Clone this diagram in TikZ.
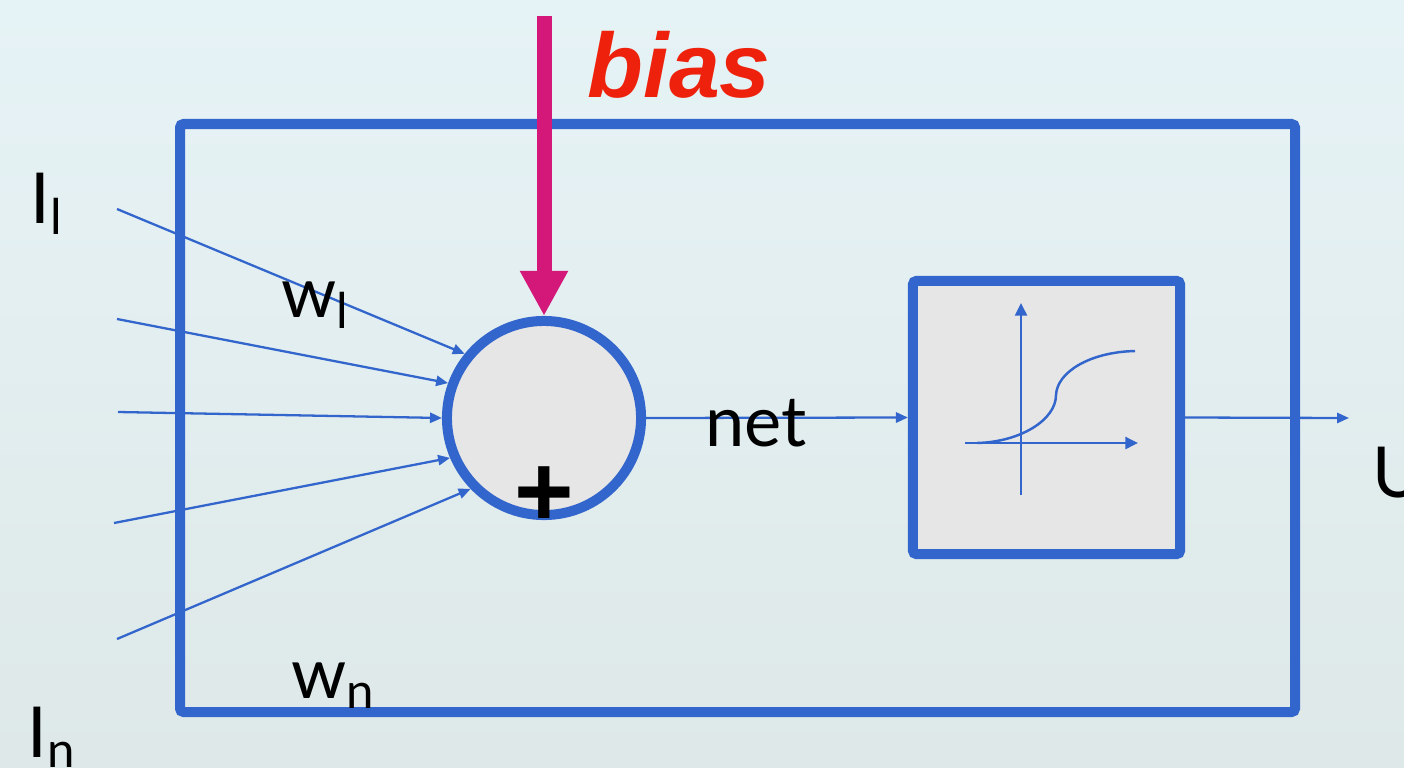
\documentclass[tikz,border=0pt]{standalone}
\usepackage{fontspec}
\setmainfont{Lato}
\newfontfamily\biasfont{Liberation Sans}
\usetikzlibrary{arrows.meta,positioning}
\definecolor{myblue}{RGB}{51,102,204}
\definecolor{mymagenta}{RGB}{212,24,122}
\definecolor{myred}{RGB}{238,34,12}
\definecolor{mygrey}{RGB}{230,230,230}
\definecolor{bgtop}{RGB}{230,243,246}
\definecolor{bgbottom}{RGB}{222,232,232}
\newcommand{\mylabelfont}{\fontsize{20pt}{24pt}\selectfont}
\tikzset{
    myframe/.style={draw=myblue,line width=0.1cm,rounded corners=1pt},
    mysum/.style={circle,draw=myblue,fill=mygrey,line width=0.1cm,minimum size=1.94cm,inner sep=0pt},
    mybox/.style={rectangle,draw=myblue,fill=mygrey,line width=0.1cm,rounded corners=1pt,
        minimum width=2.67cm,minimum height=2.73cm,inner sep=0pt},
    myedge/.style={draw=myblue,line width=0.65pt,-{Triangle[length=3.4pt,width=2.9pt]}},
    myaxis/.style={draw=myblue,line width=0.7pt,-{Triangle[length=3.6pt,width=3.4pt]}},
    mybias/.style={draw=mymagenta,line width=0.15cm,-{Triangle[length=0.45cm,width=0.45cm]}},
    mylabel/.style={font=\mylabelfont,inner sep=0pt,anchor=base west},
}
\begin{document}
\begin{tikzpicture}[x=0.01cm,y=-0.01cm]
  \useasboundingbox (0,0) rectangle (1404,767);
  \shade[top color=bgtop,bottom color=bgbottom] (0,0) rectangle (1404,767);

  % neuron frame
  \draw[myframe] (180,124) rectangle (1295,712);

  \coordinate (biastop) at (544,16);
  \coordinate (out) at (1349,418);
  \coordinate (in1) at (117,209);
  \coordinate (in2) at (117,319);
  \coordinate (in3) at (118,412);
  \coordinate (in4) at (114,523);
  \coordinate (in5) at (117,639);

  \node[mysum] (sum) at (544,418) {};
  \node[mybox] (act) at (1046.5,417.5) {};
  \node[font=\biasfont\bfseries\fontsize{29pt}{32pt}\selectfont,inner sep=0pt] (plus) at (544,497) {+};

  \foreach \p/\a in {in1/141,in2/160,in3/180,in4/203,in5/224}{
    \draw[myedge] (\p) -- (sum.\a);
  }
  \draw[myedge] (sum.east) -- (act.west);
  \draw[myedge] (act.east) -- (out);
  \draw[mybias] (biastop) -- (sum.north);

  % sigmoid sketch
  \draw[myaxis] (1021,495) -- (1021,303);
  \draw[myaxis] (965,443) -- (1138,443);
  \draw[myblue,line width=0.7pt] (977,443) .. controls (1020,442) and (1056,420) .. (1056,395)
    .. controls (1057,372) and (1090,352) .. (1135,351);

  \node[mylabel] (inl) at (30,223) {I\textsubscript{l}};
  \node[mylabel] (inn) at (27,757) {I\textsubscript{n}};
  \node[mylabel] (wl) at (281,317) {w\textsubscript{l}};
  \node[mylabel] (wn) at (291,698) {w\textsubscript{n}};
  \node[mylabel] (netlabel) at (705,446) {net};
  \node[mylabel] (outlabel) at (1372,497) {U};
  \node[font=\biasfont\bfseries\itshape\fontsize{26pt}{30pt}\selectfont,text=myred,
    inner sep=0pt,anchor=base west] (biaslabel) at (587,98) {bias};
\end{tikzpicture}
\end{document}
